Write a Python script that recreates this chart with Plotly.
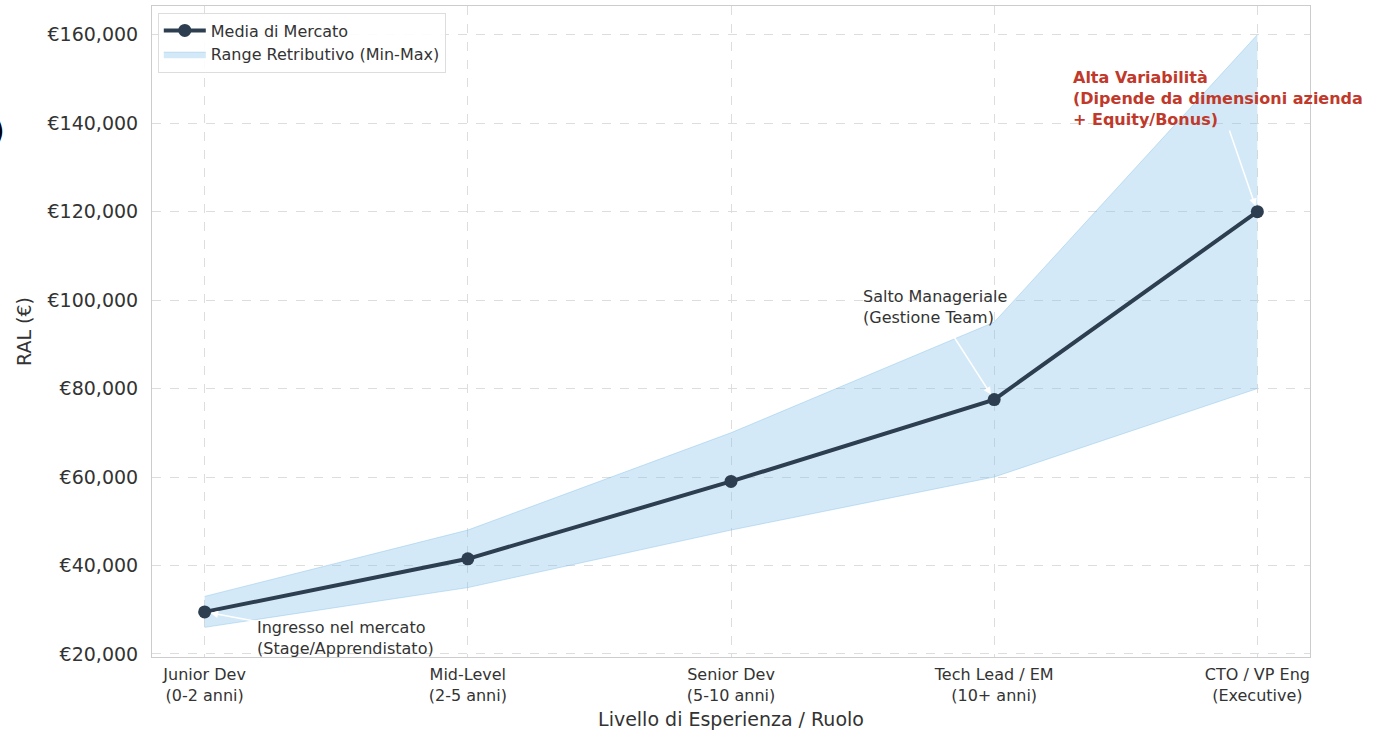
import plotly.graph_objects as go

categories = ["Junior Dev<br>(0-2 anni)", "Mid-Level<br>(2-5 anni)", "Senior Dev<br>(5-10 anni)",
              "Tech Lead / EM<br>(10+ anni)", "CTO / VP Eng<br>(Executive)"]
min_sal = [26000, 35000, 48000, 60000, 80000]
max_sal = [33000, 48000, 70000, 95000, 160000]
mean_sal = [29500, 41500, 59000, 77500, 120000]
y_ticks = [20000, 40000, 60000, 80000, 100000, 120000, 140000, 160000]
y_tick_labels = ["€{:,}".format(v) for v in y_ticks]

x = list(range(len(categories)))
FONT = "DejaVu Sans"

fig = go.Figure()
fig.add_trace(go.Scatter(x=x, y=min_sal, mode="lines", line=dict(color="rgba(133,193,233,0.45)", width=1),
                         showlegend=False, hoverinfo="skip"))
fig.add_trace(go.Scatter(x=x, y=max_sal, mode="lines", fill="tonexty",
                         fillcolor="rgba(133,193,233,0.35)", line=dict(color="rgba(133,193,233,0.45)", width=1),
                         name="Range Retributivo (Min-Max)"))
fig.add_trace(go.Scatter(x=x, y=mean_sal, mode="lines+markers", name="Media di Mercato",
                         line=dict(color="#2c3e50", width=4), marker=dict(size=13, color="#2c3e50")))

ann_font = dict(family=FONT, size=16, color="#333333")
fig.add_annotation(x=0, y=mean_sal[0], ax=0.535, ay=23600, axref="x", ayref="y",
                   text="Ingresso nel mercato<br>(Stage/Apprendistato)", align="left",
                   font=ann_font, showarrow=True, arrowcolor="white", arrowwidth=1.5,
                   arrowhead=2, standoff=6)
fig.add_annotation(x=3, y=mean_sal[3], ax=2.774, ay=98500, axref="x", ayref="y",
                   text="Salto Manageriale<br>(Gestione Team)", align="left",
                   font=ann_font, showarrow=True, arrowcolor="white", arrowwidth=1.5,
                   arrowhead=2, standoff=6)
fig.add_annotation(x=4, y=mean_sal[4], ax=3.852, ay=145600, axref="x", ayref="y",
                   text="<b>Alta Variabilità<br>(Dipende da dimensioni azienda<br>+ Equity/Bonus)</b>", align="left",
                   font=dict(family=FONT, size=16, color="#c0392b"), showarrow=True, arrowcolor="white",
                   arrowwidth=1.5, arrowhead=2, standoff=6)
fig.add_annotation(xref="paper", yref="paper", x=-0.133, y=0.808, xanchor="center", yanchor="middle",
                   text="<b>)</b>", showarrow=False, font=dict(family=FONT, size=30, color="black"))

fig.update_layout(
    width=1373, height=731,
    margin=dict(l=152, r=63, t=5, b=73),
    paper_bgcolor="white", plot_bgcolor="white",
    font=dict(family=FONT, color="#333333"),
    legend=dict(x=0.005, y=0.99, xanchor="left", yanchor="top", bgcolor="rgba(255,255,255,0.9)",
                bordercolor="#dddddd", borderwidth=1, font=dict(family=FONT, size=16, color="#333333"),
                traceorder="reversed", itemwidth=42),
    xaxis=dict(tickvals=x, ticktext=categories, range=[-0.2, 4.2],
               showgrid=True, gridcolor="#dddddd", griddash="dash", gridwidth=1,
               showline=True, linecolor="#cccccc", mirror=True, zeroline=False,
               ticklabelstandoff=3,
               tickfont=dict(family=FONT, size=16, color="#333333"),
               title=dict(text="Livello di Esperienza / Ruolo", font=dict(family=FONT, size=19, color="#333333"),
                          standoff=8)),
    yaxis=dict(range=[19300, 166500], tickvals=y_ticks, ticktext=y_tick_labels,
               showgrid=True, gridcolor="#dddddd", griddash="dash", gridwidth=1,
               showline=True, linecolor="#cccccc", mirror=True, zeroline=False,
               ticklabelstandoff=9,
               tickfont=dict(family=FONT, size=19, color="#333333"),
               title=dict(text="RAL (€)", font=dict(family=FONT, size=19, color="#333333"), standoff=10)),
)

fig.write_html("out.html", config={"displayModeBar": False},
               post_script="document.body.style.margin='0';document.body.style.padding='0';")
